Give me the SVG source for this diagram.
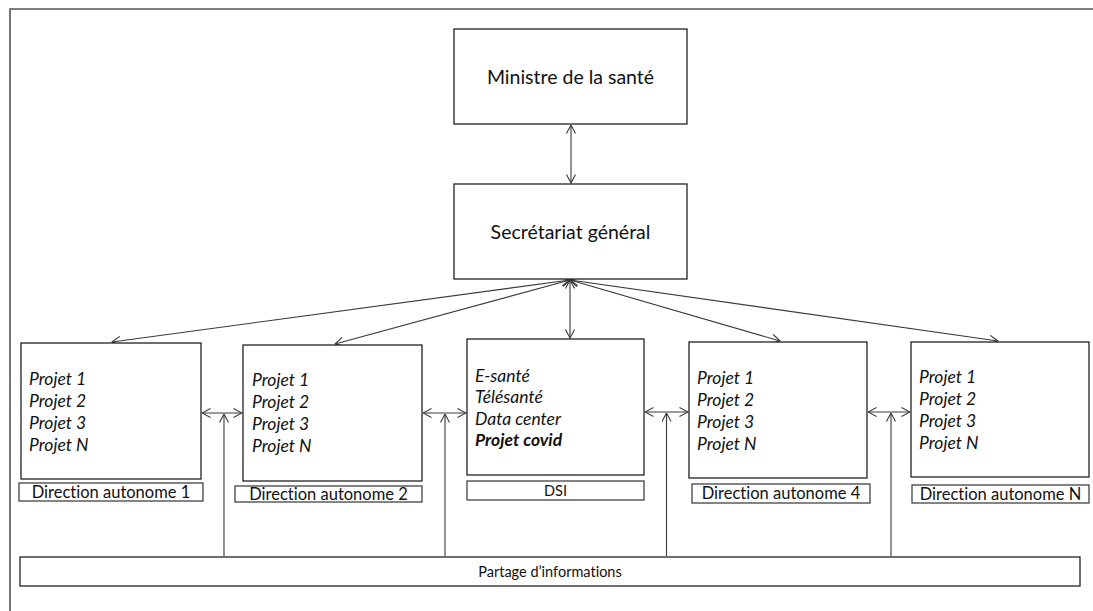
<svg xmlns="http://www.w3.org/2000/svg" width="1093" height="611" viewBox="0 0 1093 611">
  <style>
    text { font-family: Lato, "Open Sans", sans-serif; fill: #111111; font-variant-ligatures: none; font-feature-settings: "liga" 0, "clig" 0; }
    .box { fill: #ffffff; stroke: #222222; stroke-width: 1.3; }
    .tag { fill: #ffffff; stroke: #333333; stroke-width: 1.2; }
    .frame { fill: none; stroke: #555555; stroke-width: 1.6; }
    .link { fill: none; stroke: #3a3a3a; stroke-width: 1.1; marker-end: url(#head); }
    .both { marker-start: url(#head); }
    .title { font-size: 19.5px; text-anchor: middle; }
    .item { font-size: 17.5px; font-style: italic; }
    .label { font-size: 16.5px; text-anchor: middle; }
    .small { font-size: 14.5px; text-anchor: middle; }
  </style>
  <defs>
    <marker id="head" viewBox="0 0 10 10" refX="9.5" refY="5" markerWidth="10" markerHeight="10" markerUnits="userSpaceOnUse" orient="auto-start-reverse">
      <path d="M1,0.5 L9.5,5 L1,9.5" fill="none" stroke="#3a3a3a" stroke-width="1.1"/>
    </marker>
  </defs>

  <!-- page frame -->
  <path class="frame" d="M10,611 L10,9 L1093,9"/>

  <!-- connectors -->
  <g id="connectors">
    <line class="link both" x1="571" y1="125" x2="571" y2="183"/>
    <line class="link both" x1="570" y1="280" x2="112" y2="342"/>
    <line class="link both" x1="570" y1="280" x2="335" y2="344"/>
    <line class="link both" x1="570" y1="280" x2="570" y2="338"/>
    <line class="link both" x1="570" y1="280" x2="780" y2="341"/>
    <line class="link both" x1="570" y1="280" x2="998" y2="341"/>
    <line class="link both" x1="202" y1="413" x2="242" y2="413"/>
    <line class="link both" x1="423" y1="413" x2="466" y2="413"/>
    <line class="link both" x1="645" y1="412" x2="688" y2="412"/>
    <line class="link both" x1="868" y1="412" x2="910" y2="412"/>
    <line class="link" x1="224" y1="556" x2="224" y2="414"/>
    <line class="link" x1="445" y1="556" x2="445" y2="414"/>
    <line class="link" x1="666.5" y1="556" x2="666.5" y2="413"/>
    <line class="link" x1="891" y1="556" x2="891" y2="413"/>
  </g>

  <g id="ministre">
    <rect class="box" x="454" y="29" width="233" height="95"/>
    <text class="title" x="570.5" y="83.5">Ministre de la santé</text>
  </g>

  <g id="secretariat">
    <rect class="box" x="454" y="184" width="233" height="95"/>
    <text class="title" x="570.5" y="238.5">Secrétariat général</text>
  </g>

  <g id="direction-1">
    <rect class="box" x="21" y="343" width="180" height="136"/>
    <text class="item" x="29" y="384.5">Projet 1</text>
    <text class="item" x="29" y="406.5">Projet 2</text>
    <text class="item" x="29" y="428.5">Projet 3</text>
    <text class="item" x="29" y="450.5">Projet N</text>
    <rect class="tag" x="19" y="483" width="184" height="18"/>
    <text class="label" x="111" y="497.5">Direction autonome 1</text>
  </g>

  <g id="direction-2">
    <rect class="box" x="243" y="345" width="179" height="136"/>
    <text class="item" x="252" y="385.5">Projet 1</text>
    <text class="item" x="252" y="407.5">Projet 2</text>
    <text class="item" x="252" y="429.5">Projet 3</text>
    <text class="item" x="252" y="451.5">Projet N</text>
    <rect class="tag" x="235" y="486" width="187" height="16"/>
    <text class="label" x="328.5" y="499.5">Direction autonome 2</text>
  </g>

  <g id="dsi">
    <rect class="box" x="467" y="339" width="177" height="136"/>
    <text class="item" x="475" y="381.5">E-santé</text>
    <text class="item" x="475" y="403">Télésanté</text>
    <text class="item" x="475" y="424.5">Data center</text>
    <text class="item" x="475" y="446" font-weight="bold">Projet covid</text>
    <rect class="tag" x="467" y="481" width="177" height="19"/>
    <text class="small" x="555.5" y="495.5">DSI</text>
  </g>

  <g id="direction-4">
    <rect class="box" x="689" y="342" width="178" height="136"/>
    <text class="item" x="697" y="383.5">Projet 1</text>
    <text class="item" x="697" y="405.5">Projet 2</text>
    <text class="item" x="697" y="427.5">Projet 3</text>
    <text class="item" x="697" y="449.5">Projet N</text>
    <rect class="tag" x="692" y="484" width="178" height="19"/>
    <text class="label" x="781" y="498.5">Direction autonome 4</text>
  </g>

  <g id="direction-n">
    <rect class="box" x="911" y="342" width="178" height="135"/>
    <text class="item" x="919" y="382.5">Projet 1</text>
    <text class="item" x="919" y="404.5">Projet 2</text>
    <text class="item" x="919" y="426.5">Projet 3</text>
    <text class="item" x="919" y="448.5">Projet N</text>
    <rect class="tag" x="912" y="485" width="177" height="18"/>
    <text class="label" x="1000.5" y="499.5">Direction autonome N</text>
  </g>

  <g id="partage">
    <rect class="box" x="20" y="557" width="1060" height="29"/>
    <text class="small" x="550" y="576.5">Partage d’informations</text>
  </g>
</svg>
